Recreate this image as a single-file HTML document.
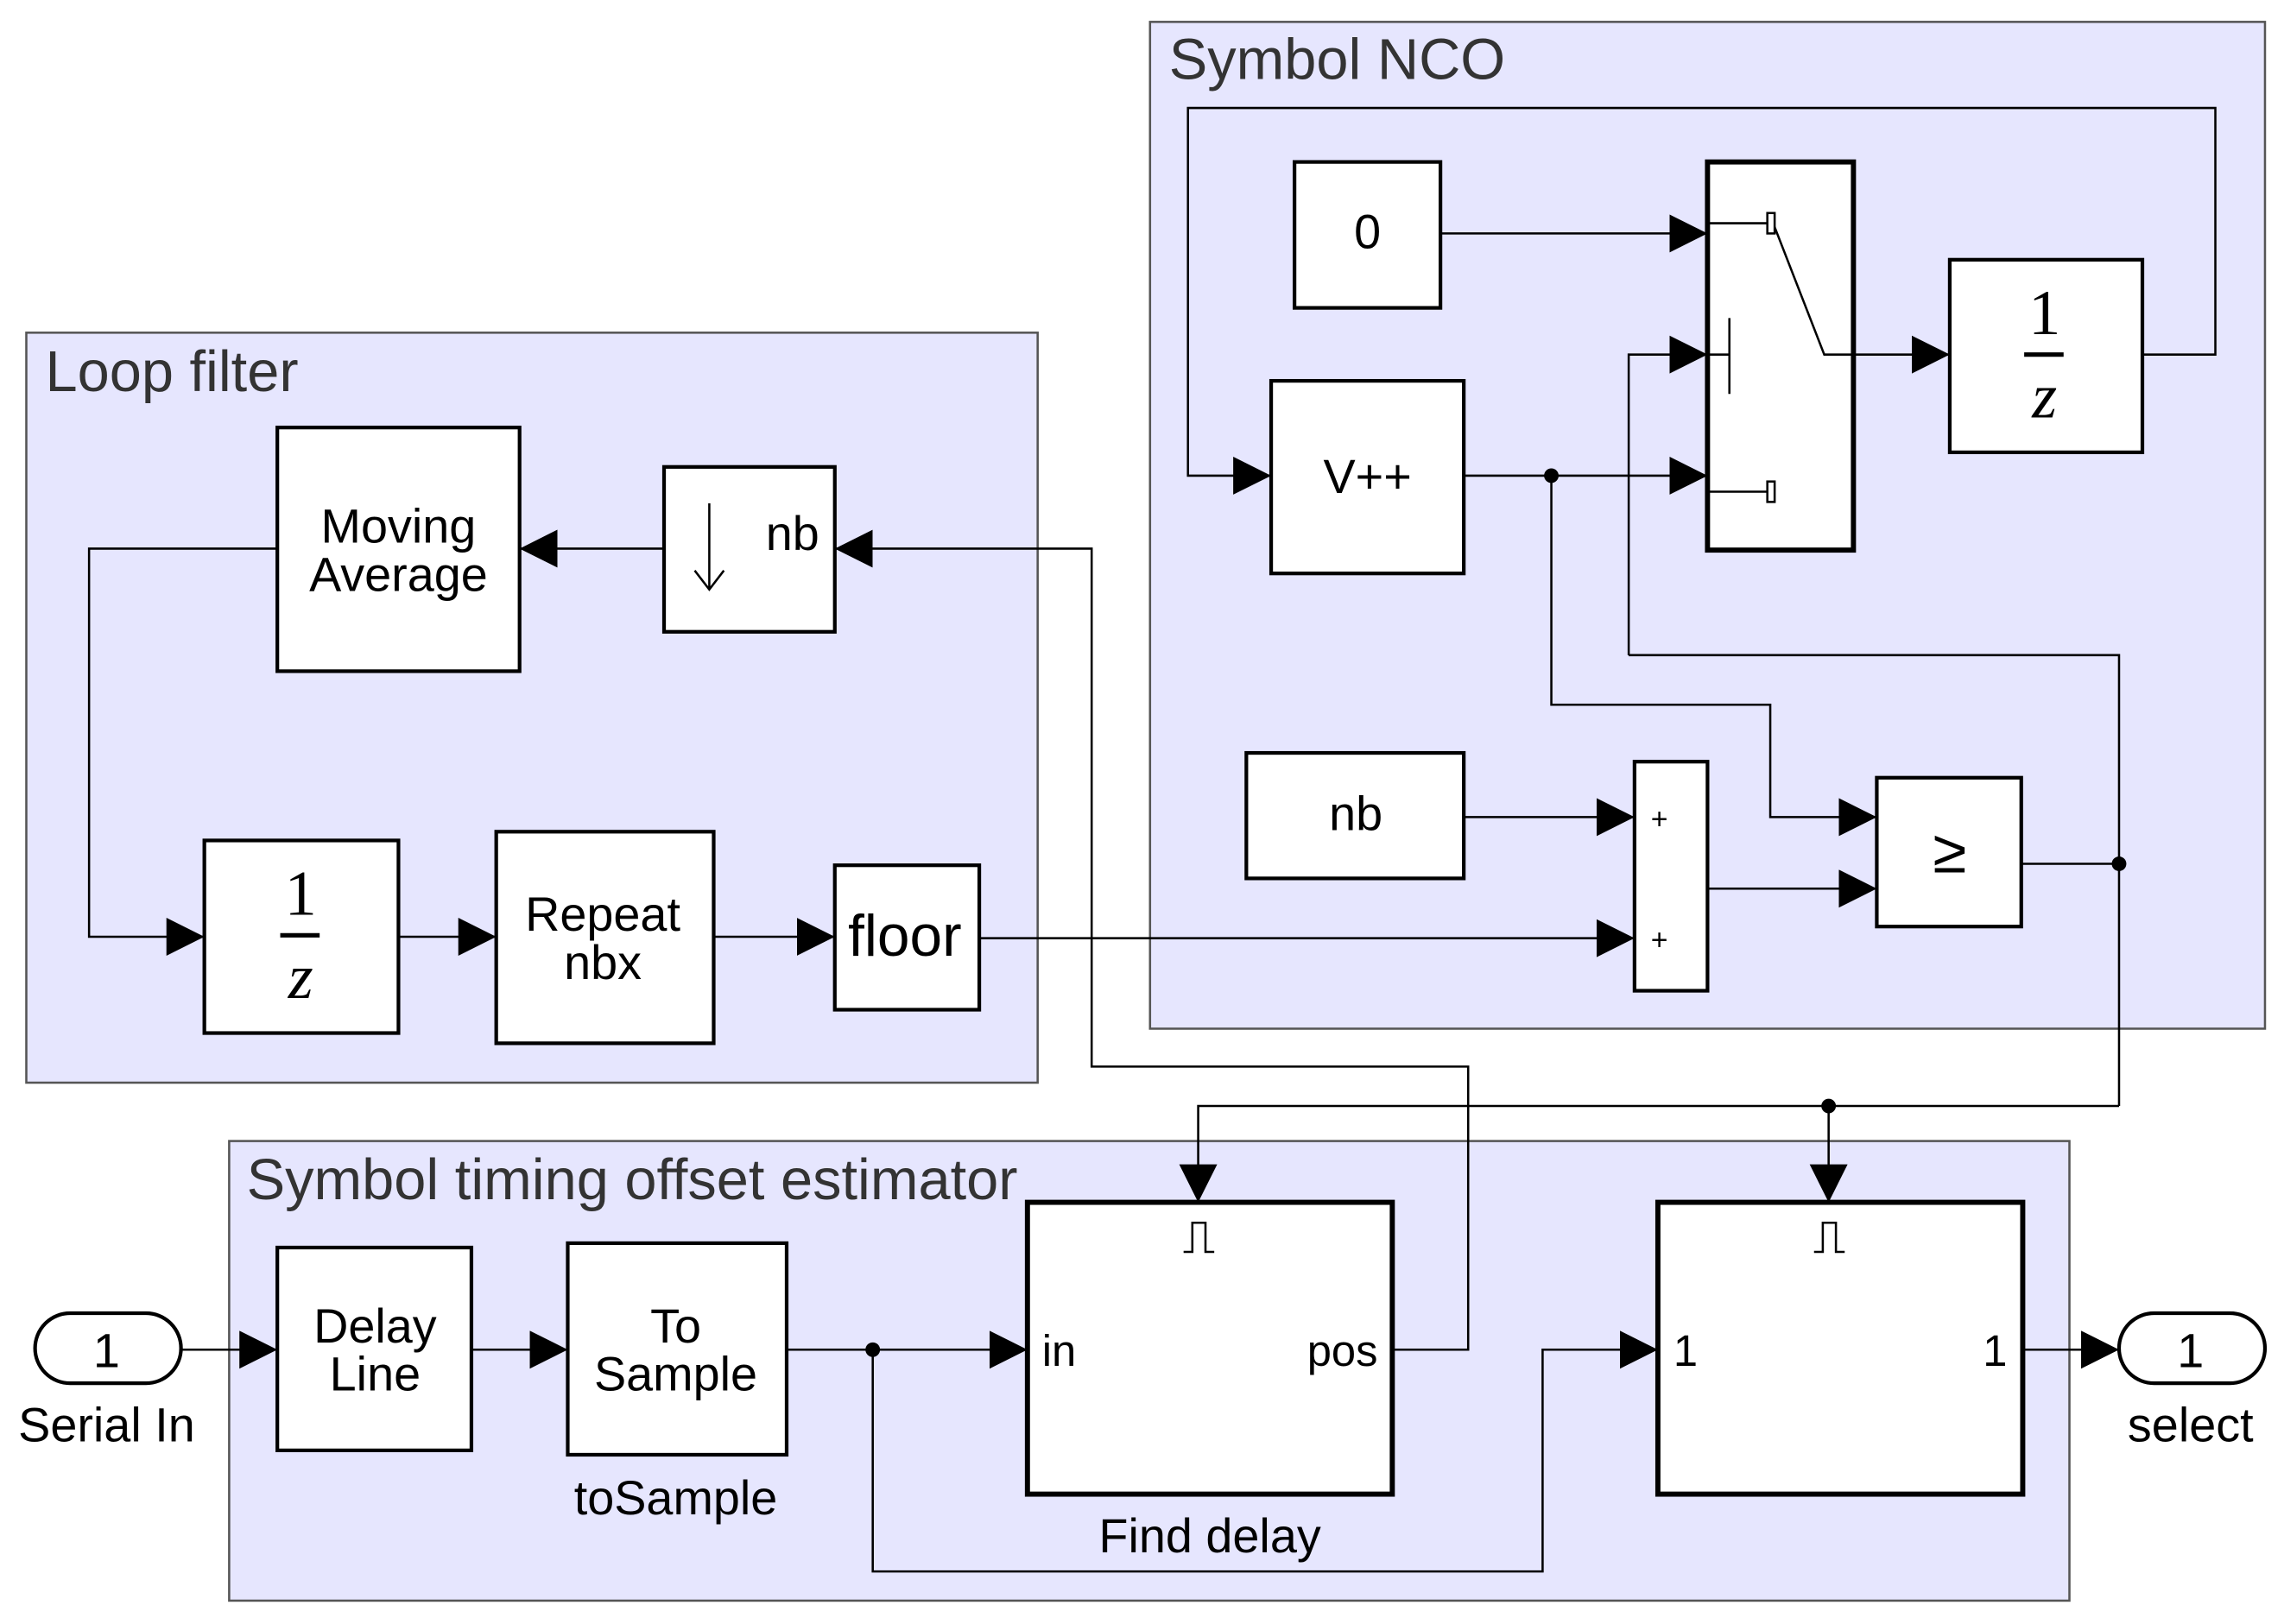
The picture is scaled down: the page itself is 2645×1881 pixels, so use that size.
<!DOCTYPE html>
<html><head><style>html,body{margin:0;padding:0;background:#fff}svg{display:block}</style></head>
<body>
<svg xmlns="http://www.w3.org/2000/svg" width="2645" height="1881" viewBox="0 0 1565 1113">
<defs>
<marker id="a" markerUnits="userSpaceOnUse" markerWidth="30" markerHeight="30" refX="26" refY="13" orient="auto"><path d="M0,0 L26,13 L0,26 z" fill="#000"/></marker>
</defs>
<rect width="1565" height="1113" fill="#fff"/>
<g fill="#e6e6fe" stroke="#555" stroke-width="1.5">
<rect x="788" y="15" width="764" height="690"/>
<rect x="18" y="228" width="693" height="514"/>
<rect x="157" y="782" width="1261" height="315"/>
</g>
<g font-family="Liberation Sans, sans-serif" font-size="39.5" fill="#333">
<text x="801" y="54">Symbol NCO</text>
<text x="31" y="268">Loop filter</text>
<text x="169" y="822">Symbol timing offset estimator</text>
</g>
<g fill="none" stroke="#000" stroke-width="1.5">
<path d="M987,160 H1170" marker-end="url(#a)"/>
<path d="M1270,243 H1336" marker-end="url(#a)"/>
<path d="M1468,243 H1518 V74 H814 V326 H871" marker-end="url(#a)"/>
<path d="M1003,326 H1170" marker-end="url(#a)"/>
<path d="M1063,326 V483 H1213 V560 H1286" marker-end="url(#a)"/>
<path d="M1116,449 V243 H1170" marker-end="url(#a)"/>
<path d="M1116,449 H1452 V758"/>
<path d="M1385,592 H1452"/>
<path d="M1452,758 H821 V824" marker-end="url(#a)"/>
<path d="M1253,758 V824" marker-end="url(#a)"/>
<path d="M1003,560 H1120" marker-end="url(#a)"/>
<path d="M1170,609 H1286" marker-end="url(#a)"/>
<path d="M671,643 H1120" marker-end="url(#a)"/>
<path d="M954,925 H1006 V731 H748 V376 H572" marker-end="url(#a)"/>
<path d="M455,376 H356" marker-end="url(#a)"/>
<path d="M190,376 H61 V642 H140" marker-end="url(#a)"/>
<path d="M273,642 H340" marker-end="url(#a)"/>
<path d="M489,642 H572" marker-end="url(#a)"/>
<path d="M124,925 H190" marker-end="url(#a)"/>
<path d="M323,925 H389" marker-end="url(#a)"/>
<path d="M539,925 H704" marker-end="url(#a)"/>
<path d="M598,925 V1077 H1057 V925 H1136" marker-end="url(#a)"/>
<path d="M1386,925 H1452" marker-end="url(#a)"/>
</g>
<g fill="#000"><circle cx="1063" cy="326" r="5"/><circle cx="1452" cy="592" r="5"/><circle cx="1253" cy="758" r="5"/><circle cx="598" cy="925" r="5"/></g>
<g fill="#fff" stroke="#000" stroke-width="2.5">
<rect x="887" y="111" width="100" height="100"/>
<rect x="1336" y="178" width="132" height="132"/>
<rect x="871" y="261" width="132" height="132"/>
<rect x="854" y="516" width="149" height="86"/>
<rect x="1120" y="522" width="50" height="157"/>
<rect x="1286" y="533" width="99" height="102"/>
<rect x="190" y="293" width="166" height="167"/>
<rect x="455" y="320" width="117" height="113"/>
<rect x="140" y="576" width="133" height="132"/>
<rect x="340" y="570" width="149" height="145"/>
<rect x="572" y="593" width="99" height="99"/>
<rect x="190" y="855" width="133" height="139"/>
<rect x="389" y="852" width="150" height="145"/>
<rect x="24" y="900" width="100" height="48" rx="24"/>
<rect x="1452" y="900" width="100" height="48" rx="24"/>
</g>
<g fill="#fff" stroke="#000" stroke-width="3.5">
<rect x="1170" y="111" width="100" height="266"/>
<rect x="704" y="824" width="250" height="200"/>
<rect x="1136" y="824" width="250" height="200"/>
</g>
<g fill="none" stroke="#000" stroke-width="1.5">
<path d="M1170,153 H1212 M1215,153 L1250,243 H1270 M1185,218 V270 M1170,243 H1185 M1170,337 H1212"/>
<rect x="1211" y="146" width="5" height="14" fill="#fff"/>
<rect x="1211" y="330" width="5" height="14" fill="#fff"/>
<path d="M486,345 V403 M476,391 L486,404 L496,391"/>
<path d="M811,858 H817 V838 H826 V858 H832"/>
<path d="M1243,858 H1249 V838 H1258 V858 H1264"/>
</g>
<g stroke="#000" stroke-width="3"><path d="M1387,243 H1414 M192,641 H219"/></g>
<g font-family="Liberation Serif, serif" font-size="44" text-anchor="middle" fill="#000">
<text x="1401" y="229">1</text><text x="1401" y="286" font-style="italic">z</text>
<text x="206" y="627">1</text><text x="206" y="684" font-style="italic">z</text>
</g>
<g font-family="Liberation Sans, sans-serif" font-size="33" text-anchor="middle" fill="#000">
<text x="937" y="170">0</text>
<text x="937" y="338">V++</text>
<text x="929" y="569">nb</text>
<text x="1336" y="598" font-size="42">≥</text>
<text x="273" y="372">Moving</text><text x="273" y="405">Average</text>
<text x="543" y="377">nb</text>
<text x="413" y="638">Repeat</text><text x="413" y="671">nbx</text>
<text x="620" y="655" font-size="40">floor</text>
<text x="257" y="920">Delay</text><text x="257" y="953">Line</text>
<text x="463" y="920">To</text><text x="463" y="953">Sample</text>
<text x="463" y="1038">toSample</text>
<text x="829" y="1064">Find delay</text>
<text x="73" y="937">1</text><text x="73" y="988">Serial In</text>
<text x="1501" y="937">1</text><text x="1501" y="988">select</text>
<text x="1155" y="936" font-size="30">1</text><text x="1367" y="936" font-size="30">1</text>
</g>
<g font-family="Liberation Sans, sans-serif" font-size="30" fill="#000">
<text x="714" y="936">in</text><text x="944" y="936" text-anchor="end">pos</text>
</g>
<g font-family="Liberation Sans, sans-serif" font-size="20" fill="#000" text-anchor="middle">
<text x="1137" y="568">+</text><text x="1137" y="651">+</text>
</g>
</svg>
</body></html>
